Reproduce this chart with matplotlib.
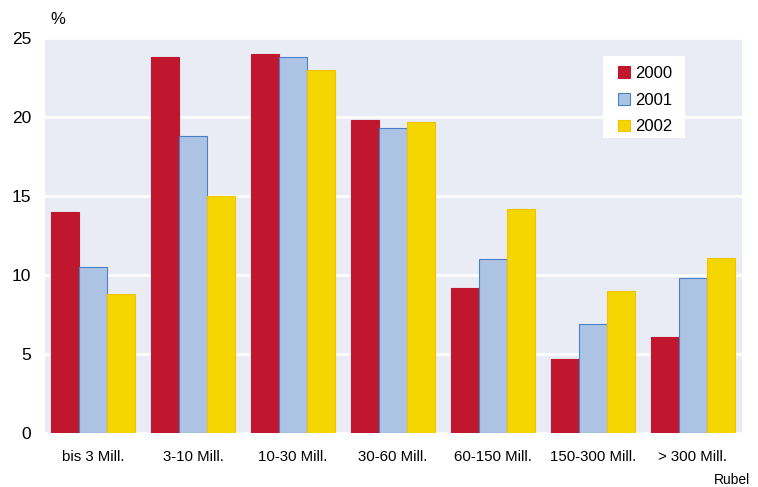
import numpy as np
import matplotlib.pyplot as plt
from matplotlib.patches import Rectangle

plt.rcParams['font.family'] = ['Liberation Sans', 'DejaVu Sans']

categories = ['bis 3 Mill.', '3-10 Mill.', '10-30 Mill.', '30-60 Mill.',
              '60-150 Mill.', '150-300 Mill.', '> 300 Mill.']
years = ['2000', '2001', '2002']
v2000 = [14.0, 23.8, 24.0, 19.8, 9.2, 4.7, 6.1]
v2001 = [10.5, 18.8, 23.8, 19.3, 11.0, 6.9, 9.8]
v2002 = [8.8, 15.0, 23.0, 19.7, 14.2, 9.0, 11.1]
yticks = [0, 5, 10, 15, 20, 25]

fill = ['#c0172f', '#adc3e4', '#f5d600']
edge = ['#c0172f', '#4a80c8', '#f0c400']

fig = plt.figure(figsize=(7.58, 4.87), dpi=100)
ax = fig.add_axes([45 / 758, 54 / 487, 697 / 758, 395 / 487])
ax.set_facecolor('#e9ecf5')

x = np.arange(len(categories))
w = 0.28
for i, vals in enumerate([v2000, v2001, v2002]):
    ax.bar(x + (i - 1) * w, vals, w, color=fill[i], edgecolor=edge[i],
           linewidth=0.8, label=years[i], zorder=3)

ax.set_xlim(-0.48, 6.49)
ax.set_ylim(0, 25)
ax.set_yticks(yticks)
ax.set_xticks(x)
ax.set_xticklabels(categories, fontsize=10.8)
ax.tick_params(axis='y', labelsize=12.5, length=0, pad=10)
ax.tick_params(axis='x', length=0, pad=12)
ax.grid(axis='y', color='white', linewidth=2, zorder=1)
for s in ax.spines.values():
    s.set_visible(False)

# white box behind the legend (wider padding left/right than top/bottom)
ax.add_patch(Rectangle((558 / 697, 295 / 395), 82 / 697, 82 / 395,
                       transform=ax.transAxes, facecolor='white',
                       edgecolor='none', zorder=4))
leg = ax.legend(loc='upper left', bbox_to_anchor=(573 / 697, 367 / 395),
                frameon=False, fontsize=12, handlelength=0.7,
                handleheight=0.7, borderpad=0, labelspacing=0.7,
                handletextpad=0.35, borderaxespad=0)
leg.set_zorder(5)

fig.text(50 / 758, 1 - 19 / 487, '%', fontsize=12, va='center')
fig.text(750 / 758, 1 - 480 / 487, 'Rubel', fontsize=10, ha='right', va='center')

fig.savefig('out.png', dpi=100)
